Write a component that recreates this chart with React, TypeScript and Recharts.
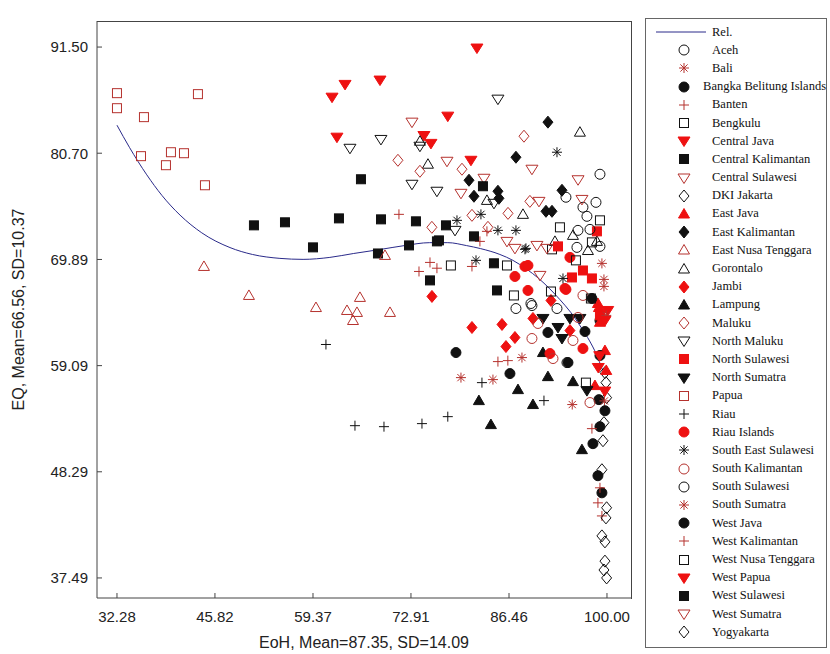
import React from "react"
import { ComposedChart, Scatter, Line, XAxis, YAxis } from "recharts"

type P = [number, number]

const xTicks = [32.28, 45.82, 59.37, 72.91, 86.46, 100.0]
const yTicks = [37.49, 48.29, 59.09, 69.89, 80.7, 91.5]

const rel: P[] = [
  [32.28, 83.55], [34.0, 81.3], [36.4, 78.5], [38.5, 76.4], [41.0, 74.4], [44.0, 72.6], [47.9, 71.1],
  [51.0, 70.4], [54.8, 70.0], [58.0, 69.9], [61.7, 70.1], [65.0, 70.5], [68.6, 70.9], [72.0, 71.3],
  [75.5, 71.6], [78.0, 71.6], [80.6, 71.3], [82.5, 71.0], [85.2, 70.4], [87.0, 69.8], [88.9, 68.9],
  [90.5, 68.0], [92.1, 66.9], [93.5, 65.8], [95.0, 64.5], [96.5, 62.9], [97.6, 61.6], [98.5, 60.3], [99.4, 58.6],
]

const aceh: P[] = [[99.03, 78.56], [94.33, 76.22], [96.68, 75.2], [98.48, 75.7], [97.23, 74.28], [89.49, 65.41], [93.09, 64.9]]
const bali: P[] = [[79.82, 57.87], [84.24, 57.67], [99.3, 69.49], [99.58, 67.86]]
const bangka: P[] = [[79.13, 60.42], [86.59, 58.28], [91.84, 62.46], [99.03, 63.68], [98.89, 55.63], [98.06, 51.15], [98.75, 47.89]]
const banten: P[] = [[71.25, 74.48], [75.54, 69.59], [74.02, 68.67], [83.41, 72.75], [82.44, 71.73], [81.34, 69.18], [84.93, 59.5]]
const bengkulu: P[] = [[78.43, 69.28], [86.18, 69.28], [87.14, 66.23], [93.5, 73.16], [92.4, 70.92]]
const centralJava: P[] = [[62.0, 86.4], [63.8, 87.7], [68.63, 88.14], [62.68, 82.33], [74.7, 82.5], [75.67, 81.7], [100.1, 64.7]]
const centralKalimantan: P[] = [[51.21, 73.36], [55.5, 73.67], [59.37, 71.12], [62.96, 74.07], [66.0, 78.05], [68.77, 73.97], [68.35, 70.5], [73.6, 73.77], [72.64, 71.32]]
const centralSulawesi: P[] = [[73.05, 83.86], [77.89, 79.88], [79.82, 76.62], [83.0, 78.15], [89.63, 79.07], [90.6, 75.8], [86.18, 71.73]]
const dkiJakarta: P[] = [[99.72, 58.38], [99.86, 57.36], [99.95, 55.83], [99.58, 53.29], [99.45, 51.45], [99.3, 48.5]]
const eastJava: P[] = [[98.89, 65.0], [98.75, 65.41], [99.72, 60.62], [99.9, 58.6], [98.34, 57.06], [99.03, 63.5]]
const eastKalimantan: P[] = [[91.84, 83.86], [87.42, 80.29], [80.93, 77.95], [81.62, 76.32], [84.93, 76.83], [85.07, 76.11], [93.78, 76.93], [91.57, 74.79], [92.4, 74.79]]
const eastNusaTenggara: P[] = [[44.3, 69.18], [50.52, 66.23], [59.78, 65.0], [64.07, 64.7], [65.86, 66.03], [65.45, 64.5], [64.9, 63.68], [69.32, 70.3], [70.01, 64.5]]
const gorontalo: P[] = [[74.15, 81.92], [75.26, 79.58], [96.26, 82.84], [88.39, 74.48], [83.41, 75.9], [92.81, 71.73], [95.3, 72.34], [98.61, 71.73], [97.37, 70.8]]
const jambi: P[] = [[81.34, 62.97], [85.49, 63.28], [87.28, 61.95], [86.04, 61.03], [89.77, 63.89], [94.88, 62.66], [75.81, 66.13], [92.26, 65.72]]
const lampung: P[] = [[82.3, 55.53], [83.96, 53.09], [87.7, 56.65], [89.77, 55.13], [91.84, 57.97], [95.3, 57.46], [96.54, 50.54], [91.15, 60.42]]
const maluku: P[] = [[71.11, 79.98], [74.15, 78.86], [75.8, 73.16], [79.96, 79.07], [88.53, 82.43], [81.34, 74.38], [86.32, 74.58], [83.55, 73.16], [89.35, 75.8]]
const northMaluku: P[] = [[64.48, 81.2], [68.76, 82.1], [73.05, 77.54], [76.5, 76.83], [74.15, 81.41], [84.93, 86.2], [84.38, 75.6], [79.0, 72.85]]
const northSulawesi: P[] = [[98.61, 72.75], [93.23, 71.22], [96.68, 68.77], [97.92, 67.96], [95.16, 68.06], [99.03, 64.2]]
const northSumatra: P[] = [[91.15, 63.89], [93.23, 62.97], [93.78, 61.85], [94.88, 63.89], [96.26, 63.89], [97.23, 56.55]]
const papua: P[] = [[32.28, 86.81], [32.28, 85.28], [36.01, 84.37], [43.47, 86.71], [35.6, 80.4], [39.05, 79.48], [39.74, 80.8], [41.54, 80.7], [44.44, 77.44]]
const riau: P[] = [[61.16, 61.24], [65.17, 52.98], [69.18, 52.88], [74.43, 53.19], [78.0, 53.9], [82.72, 57.36], [91.29, 55.53]]
const riauIslands: P[] = [[87.28, 68.16], [88.66, 69.18], [89.08, 69.28], [89.08, 66.74], [94.33, 66.84], [94.88, 70.1], [92.12, 60.32], [96.68, 60.83], [94.19, 66.94]]
const southEastSulawesi: P[] = [[93.09, 80.8], [79.27, 73.87], [82.58, 74.48], [84.93, 72.85], [87.42, 72.85], [88.8, 71.02], [81.9, 69.8], [93.92, 67.96], [88.67, 70.92]]
const southKalimantan: P[] = [[89.63, 61.85], [90.46, 63.38], [92.54, 59.81], [95.3, 61.65], [97.65, 55.33], [96.0, 63.99], [96.68, 66.23]]
const southSulawesi: P[] = [[95.99, 72.85], [97.65, 72.95], [99.03, 71.22], [95.85, 71.12], [87.42, 64.9], [89.63, 65.2], [94.47, 59.4]]
const southSumatra: P[] = [[88.25, 59.91], [95.2, 55.13], [99.58, 67.15], [99.9, 64.2], [99.65, 55.5]]
const westJava: P[] = [[94.61, 59.4], [96.96, 62.56], [99.03, 60.12], [99.72, 54.5], [99.03, 52.88], [99.3, 46.15], [97.92, 65.92]]
const westKalimantan: P[] = [[86.3, 59.6], [97.92, 52.68], [99.03, 46.66], [98.75, 45.13], [99.3, 43.8], [76.5, 69.0]]
const westNusaTenggara: P[] = [[99.03, 73.87], [97.92, 71.63], [95.71, 69.8], [92.26, 66.63], [97.78, 65.92], [97.09, 57.36]]
const westPapua: P[] = [[82.03, 91.4], [78.0, 84.47], [81.2, 79.98], [99.72, 63.68], [99.0, 60.1], [98.8, 58.9], [99.7, 56.5]]
const westSulawesi: P[] = [[75.54, 67.76], [76.5, 71.73], [77.75, 73.36], [76.78, 71.83], [82.86, 77.34], [81.62, 72.24], [84.38, 69.5], [84.8, 66.74]]
const westSumatra: P[] = [[87.28, 71.02], [90.32, 71.32], [91.7, 71.02], [96.54, 76.0], [90.74, 68.27], [96.0, 78.0]]
const yogyakarta: P[] = [[99.95, 44.63], [99.86, 43.6], [99.3, 41.77], [99.72, 41.16], [99.72, 39.2], [99.58, 38.3], [99.95, 37.49]]

const RED = "#ee1111"
const DRED = "#b5322e"
const BLK = "#111111"

type Kind = "circle" | "circleF" | "star" | "plus" | "square" | "squareF" | "tri" | "triF" | "triDown" | "triDownF" | "diamond" | "diamondF"

const series: { name: string; data: P[]; kind: Kind; color: string }[] = [
  { name: "Aceh", data: aceh, kind: "circle", color: BLK },
  { name: "Bali", data: bali, kind: "star", color: DRED },
  { name: "Bangka Belitung Islands", data: bangka, kind: "circleF", color: BLK },
  { name: "Banten", data: banten, kind: "plus", color: DRED },
  { name: "Bengkulu", data: bengkulu, kind: "square", color: BLK },
  { name: "Central Java", data: centralJava, kind: "triDownF", color: RED },
  { name: "Central Kalimantan", data: centralKalimantan, kind: "squareF", color: BLK },
  { name: "Central Sulawesi", data: centralSulawesi, kind: "triDown", color: DRED },
  { name: "DKI Jakarta", data: dkiJakarta, kind: "diamond", color: BLK },
  { name: "East Java", data: eastJava, kind: "triF", color: RED },
  { name: "East Kalimantan", data: eastKalimantan, kind: "diamondF", color: BLK },
  { name: "East Nusa Tenggara", data: eastNusaTenggara, kind: "tri", color: DRED },
  { name: "Gorontalo", data: gorontalo, kind: "tri", color: BLK },
  { name: "Jambi", data: jambi, kind: "diamondF", color: RED },
  { name: "Lampung", data: lampung, kind: "triF", color: BLK },
  { name: "Maluku", data: maluku, kind: "diamond", color: DRED },
  { name: "North Maluku", data: northMaluku, kind: "triDown", color: BLK },
  { name: "North Sulawesi", data: northSulawesi, kind: "squareF", color: RED },
  { name: "North Sumatra", data: northSumatra, kind: "triDownF", color: BLK },
  { name: "Papua", data: papua, kind: "square", color: DRED },
  { name: "Riau", data: riau, kind: "plus", color: BLK },
  { name: "Riau Islands", data: riauIslands, kind: "circleF", color: RED },
  { name: "South East Sulawesi", data: southEastSulawesi, kind: "star", color: BLK },
  { name: "South Kalimantan", data: southKalimantan, kind: "circle", color: DRED },
  { name: "South Sulawesi", data: southSulawesi, kind: "circle", color: BLK },
  { name: "South Sumatra", data: southSumatra, kind: "star", color: DRED },
  { name: "West Java", data: westJava, kind: "circleF", color: BLK },
  { name: "West Kalimantan", data: westKalimantan, kind: "plus", color: DRED },
  { name: "West Nusa Tenggara", data: westNusaTenggara, kind: "square", color: BLK },
  { name: "West Papua", data: westPapua, kind: "triDownF", color: RED },
  { name: "West Sulawesi", data: westSulawesi, kind: "squareF", color: BLK },
  { name: "West Sumatra", data: westSumatra, kind: "triDown", color: DRED },
  { name: "Yogyakarta", data: yogyakarta, kind: "diamond", color: BLK },
]

function Marker({ cx, cy, kind, color }: { cx: number; cy: number; kind: Kind; color: string }) {
  const r = 5
  const fill = kind.endsWith("F") ? color : "none"
  switch (kind) {
    case "circle":
    case "circleF":
      return <circle cx={cx} cy={cy} r={r} fill={fill} stroke={color} strokeWidth={1} />
    case "square":
    case "squareF":
      return <rect x={cx - 4.5} y={cy - 4.5} width={9} height={9} fill={fill} stroke={color} strokeWidth={1} />
    case "tri":
    case "triF":
      return <polygon points={`${cx},${cy - 5.5} ${cx + 5.5},${cy + 4} ${cx - 5.5},${cy + 4}`} fill={fill} stroke={color} strokeWidth={1} />
    case "triDown":
    case "triDownF":
      return <polygon points={`${cx},${cy + 5.5} ${cx + 6},${cy - 4} ${cx - 6},${cy - 4}`} fill={fill} stroke={color} strokeWidth={1} />
    case "diamond":
    case "diamondF":
      return <polygon points={`${cx},${cy - 6} ${cx + 5},${cy} ${cx},${cy + 6} ${cx - 5},${cy}`} fill={fill} stroke={color} strokeWidth={1} />
    case "plus":
      return (
        <g stroke={color} strokeWidth={1}>
          <line x1={cx - 5} y1={cy} x2={cx + 5} y2={cy} />
          <line x1={cx} y1={cy - 5} x2={cx} y2={cy + 5} />
        </g>
      )
    case "star":
      return (
        <g stroke={color} strokeWidth={1}>
          <line x1={cx - 5} y1={cy} x2={cx + 5} y2={cy} />
          <line x1={cx} y1={cy - 5} x2={cx} y2={cy + 5} />
          <line x1={cx - 3.6} y1={cy - 3.6} x2={cx + 3.6} y2={cy + 3.6} />
          <line x1={cx - 3.6} y1={cy + 3.6} x2={cx + 3.6} y2={cy - 3.6} />
        </g>
      )
  }
  return null
}

const toObj = (d: P[]) => d.map(([x, y]) => ({ x, y }))
const axisFont = { fontSize: 15, fill: "#222", fontFamily: "Liberation Sans, Arial, sans-serif" }

export default function App() {
  return (
    <div style={{ position: "absolute", left: 0, top: 0, width: 830, height: 654, background: "#fff" }}>
      <ComposedChart width={640} height={654} margin={{ top: 21, right: 9, left: 0, bottom: 0 }}>
        <XAxis
          type="number"
          dataKey="x"
          domain={[29.52, 103.32]}
          ticks={xTicks}
          tickFormatter={(v: number) => v.toFixed(2)}
          height={56}
          tick={axisFont}
          tickSize={-5}
          tickMargin={18}
          stroke="#444"
          allowDataOverflow
          label={{ value: "EoH, Mean=87.35, SD=14.09", position: "insideBottom", offset: 6, style: { ...axisFont, fontSize: 16 } }}
        />
        <YAxis
          type="number"
          dataKey="y"
          domain={[35.45, 94.15]}
          ticks={yTicks}
          tickFormatter={(v: number) => v.toFixed(2)}
          width={97}
          tick={axisFont}
          tickSize={-5}
          tickMargin={14}
          stroke="#444"
          allowDataOverflow
          label={{ value: "EQ, Mean=66.56, SD=10.37", angle: -90, position: "insideLeft", offset: 18, style: { ...axisFont, fontSize: 16, textAnchor: "middle" } }}
        />
        {series.map((s) => (
          <Scatter
            key={s.name}
            name={s.name}
            data={toObj(s.data)}
            isAnimationActive={false}
            shape={(p: any) => <Marker cx={p.cx} cy={p.cy} kind={s.kind} color={s.color} />}
          />
        ))}
        <Line
          name="Rel."
          data={toObj(rel)}
          dataKey="y"
          type="monotone"
          stroke="#2a2a8a"
          strokeWidth={1}
          dot={false}
          activeDot={false}
          isAnimationActive={false}
        />
      </ComposedChart>
      <div
        style={{
          position: "absolute",
          left: 97,
          top: 21,
          width: 535,
          height: 578,
          borderTop: "1px solid #444",
          borderRight: "1px solid #444",
          boxSizing: "border-box",
          pointerEvents: "none",
        }}
      />
      <div
        style={{
          position: "absolute",
          left: 645,
          top: 18,
          width: 182,
          height: 630,
          border: "1px solid #666",
          boxSizing: "border-box",
          fontFamily: "Liberation Serif, Times New Roman, serif",
          fontSize: 12.5,
          color: "#111",
          paddingTop: 4,
        }}
      >
        <div style={{ display: "flex", alignItems: "center", height: 18.2 }}>
          <svg width={66} height={14}>
            <line x1={10} y1={7} x2={60} y2={7} stroke="#2a2a8a" strokeWidth={1} />
          </svg>
          <span>Rel.</span>
        </div>
        {series.map((s) => (
          <div key={s.name} style={{ display: "flex", alignItems: "center", height: 18.2 }}>
            <svg width={66} height={14}>
              <Marker cx={38} cy={7} kind={s.kind} color={s.color} />
            </svg>
            <span style={{ whiteSpace: "nowrap" }}>{s.name}</span>
          </div>
        ))}
      </div>
    </div>
  )
}
